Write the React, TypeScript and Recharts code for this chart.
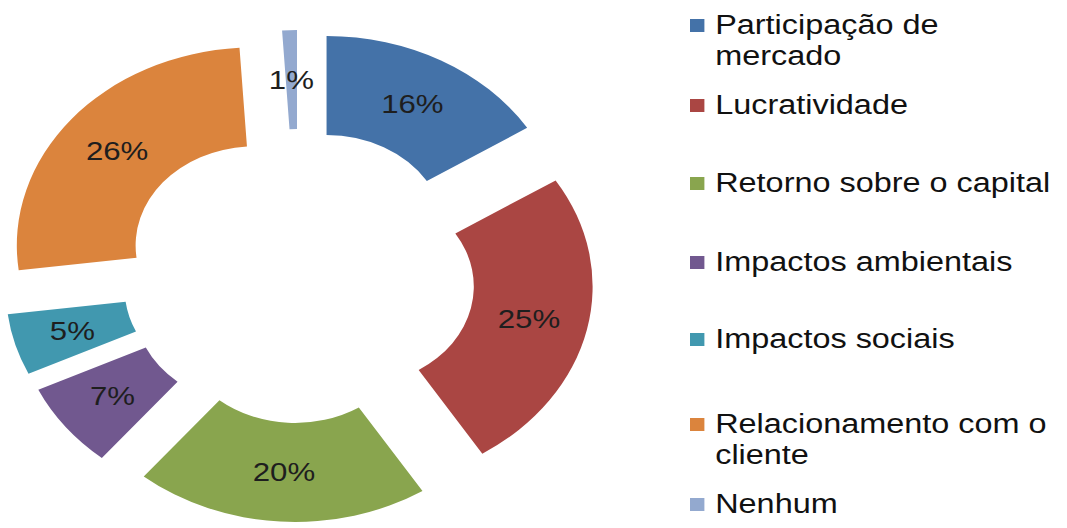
import React from "react";
import { PieChart, Pie, Cell, Sector, Legend } from "recharts";

const CATEGORIES = [
  "Participação de mercado",
  "Lucratividade",
  "Retorno sobre o capital",
  "Impactos ambientais",
  "Impactos sociais",
  "Relacionamento com o cliente",
  "Nenhum",
];
const VALUES = [16, 25, 20, 7, 5, 26, 1];
const COLORS = ["#4472A8", "#AA4643", "#89A54E", "#71588F", "#4198AF", "#DB843D", "#93A9CF"];

const data = CATEGORIES.map((name, i) => ({ name, value: VALUES[i] }));

const RADIAN = Math.PI / 180;
const EXPLODE = 48;
const FONT = "'Liberation Sans', Arial, sans-serif";
// space above each legend entry (the original legend is not evenly spaced)
const LEGEND_GAPS = [10, 18, 47, 48, 46, 54, 18];

function explode(midAngle: number) {
  return {
    dx: EXPLODE * Math.cos(-midAngle * RADIAN),
    dy: EXPLODE * Math.sin(-midAngle * RADIAN),
  };
}

const explodedSector = (props: any) => {
  const { dx, dy } = explode(props.midAngle);
  return <Sector {...props} cx={props.cx + dx} cy={props.cy + dy} stroke="none" />;
};

const renderLabel = (props: any) => {
  const { cx, cy, midAngle, innerRadius, outerRadius, value } = props;
  const { dx, dy } = explode(midAngle);
  const r = (innerRadius + outerRadius) / 2;
  const x = cx + dx + r * Math.cos(-midAngle * RADIAN);
  const y = cy + dy + r * Math.sin(-midAngle * RADIAN);
  return (
    <text x={x} y={y} fill="#1e1e1e" fontSize={26} fontFamily={FONT} textAnchor="middle" dominantBaseline="central">
      {value}%
    </text>
  );
};

function SideLegend() {
  return (
    <div style={{ fontFamily: FONT, fontSize: 27, lineHeight: "31px", color: "#111" }}>
      {CATEGORIES.map((name, i) => (
        <div key={name} style={{ display: "flex", alignItems: "flex-start", marginTop: LEGEND_GAPS[i] }}>
          <span
            style={{
              display: "inline-block",
              width: 12,
              height: 13,
              marginTop: 9,
              marginRight: 9,
              background: COLORS[i],
              flex: "none",
            }}
          />
          <span style={{ width: 290, textAlign: "left" }}>{name}</span>
        </div>
      ))}
    </div>
  );
}

export default function App() {
  // the source picture is stretched horizontally, so the whole chart is too
  return (
    <div
      style={{
        position: "absolute",
        left: 0,
        top: 0,
        width: 889,
        height: 528,
        transform: "scaleX(1.2)",
        transformOrigin: "0 0",
        background: "#fff",
      }}
    >
      <PieChart width={889} height={528} margin={{ top: 0, right: 0, bottom: 0, left: 0 }}>
        <Pie
          data={data}
          dataKey="value"
          nameKey="name"
          cx={249}
          cy={276}
          innerRadius={99}
          outerRadius={198}
          startAngle={90}
          endAngle={-270}
          stroke="none"
          isAnimationActive={false}
          labelLine={false}
          label={renderLabel}
          shape={explodedSector}
          inactiveShape={explodedSector}
          activeShape={explodedSector}
        >
          {data.map((entry, index) => (
            <Cell key={`cell-${index}`} fill={COLORS[index]} />
          ))}
        </Pie>
        <Legend
          layout="vertical"
          verticalAlign="top"
          align="right"
          content={() => <SideLegend />}
          wrapperStyle={{ left: 575, top: 0, width: 314, right: "auto" }}
        />
      </PieChart>
    </div>
  );
}
